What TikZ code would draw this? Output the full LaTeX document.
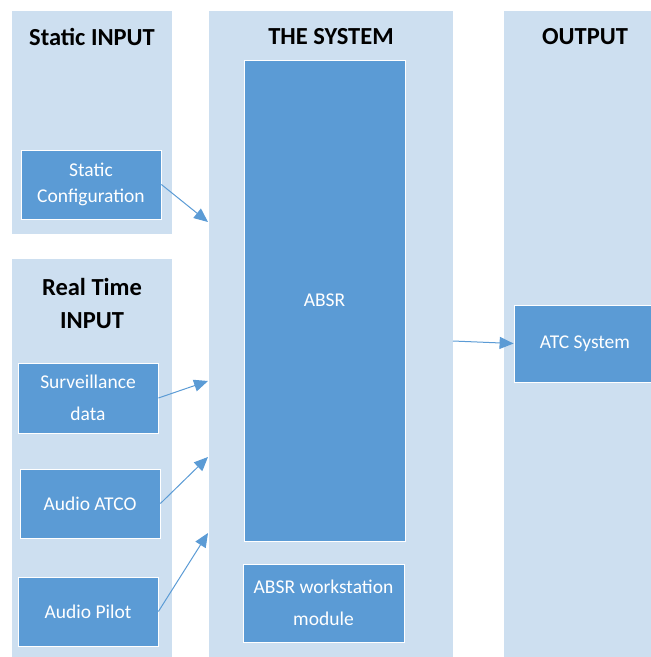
\documentclass[tikz,border=0pt]{standalone}
\usepackage{fontspec}
\setmainfont{Carlito}
\usepackage{tikz}
\usepackage{xcolor}
\usetikzlibrary{arrows.meta}
\definecolor{panelblue}{HTML}{CDDFF0}
\definecolor{boxblue}{HTML}{5B9BD5}

\begin{document}
\begin{tikzpicture}[x=1pt,y=-1pt]
      \useasboundingbox(0,0) rectangle (651,657);
      \tikzset{P/.style = {shape=rectangle, fill=panelblue, inner sep=0pt}}
      \tikzset{B/.style = {shape=rectangle, fill=boxblue, draw=white, line width=0.8pt, text=white, align=center, inner sep=0pt,
                           font=\fontsize{19.5}{32}\selectfont}}
      \tikzset{H/.style = {align=center, text=black, font=\fontsize{24.5}{33}\selectfont\bfseries}}
      \tikzset{E/.style = {draw=boxblue, line width=1pt, -{Triangle[length=14pt,width=12pt]}}}
      % panels
      \node[P, minimum width=160pt, minimum height=223pt](sin) at (92,122.5) {};
      \node[P, minimum width=160pt, minimum height=398pt](rin) at (92,458) {};
      \node[P, minimum width=244pt, minimum height=646pt](sys) at (331,334) {};
      \node[P, minimum width=147pt, minimum height=646pt](out) at (577.5,334) {};
      \node[H](hsin) at (92,37) {Static INPUT};
      \node[H](hrin) at (92,303) {Real Time\\INPUT};
      \node[H](hsys) at (331,37) {THE SYSTEM};
      \node[H](hout) at (585,37) {OUTPUT};
      % boxes
      \node[B, minimum width=140pt, minimum height=69pt, font=\fontsize{19.5}{26}\selectfont](cfg) at (91,184.5) {Static\\Configuration};
      \node[B, minimum width=140pt, minimum height=70pt](sur) at (88,398) {Surveillance\\data};
      \node[B, minimum width=140pt, minimum height=69pt](atco) at (90,503.5) {Audio ATCO};
      \node[B, minimum width=140pt, minimum height=69pt](pilot) at (88,611.5) {Audio Pilot};
      \node[B, minimum width=161pt, minimum height=481pt](absr) at (324.5,300.5) {ABSR};
      \node[B, minimum width=161pt, minimum height=78pt](ws) at (323.5,603) {ABSR workstation\\module};
      \node[B, minimum width=142pt, minimum height=77pt](atc) at (585,343.5) {ATC System};
      \coordinate (i0) at (208,222);
      \coordinate (i1) at (208,381);
      \coordinate (i2) at (208,457);
      \coordinate (i3) at (208,533);
      \coordinate (o0) at (453,341);
      \draw[E](cfg.east) to (i0);
      \draw[E](sur.east) to (i1);
      \draw[E](atco.east) to (i2);
      \draw[E](pilot.east) to (i3);
      \draw[E](o0) to (atc.west);
    \end{tikzpicture}
\end{document}
